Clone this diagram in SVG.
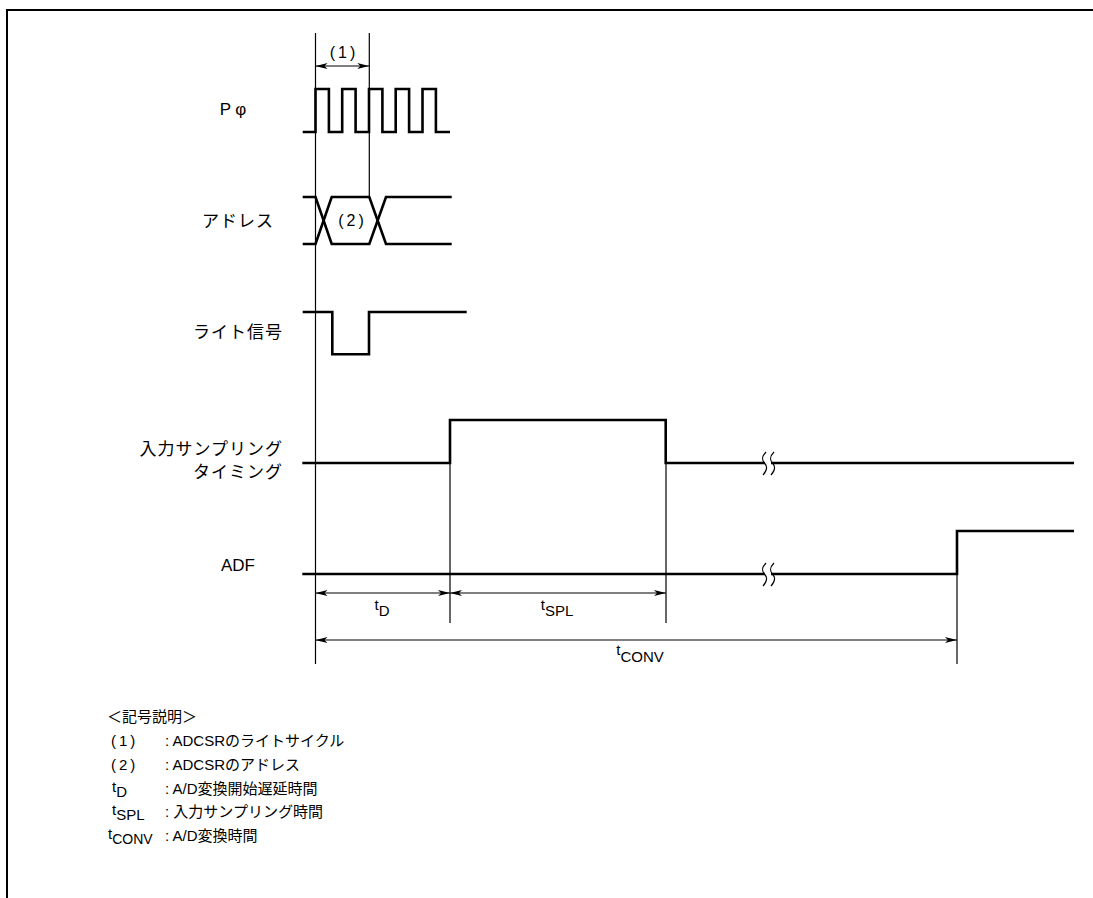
<svg xmlns="http://www.w3.org/2000/svg" width="1093" height="898" viewBox="0 0 1093 898">
<style>
.sig{fill:none;stroke:#000;stroke-width:2.6;stroke-linejoin:miter;stroke-linecap:butt}
.thin{fill:none;stroke:#000;stroke-width:1.2}
.dim{fill:none;stroke:#000;stroke-width:1.2;marker-start:url(#ah);marker-end:url(#ah)}
.lbl{font-family:"Liberation Sans","Noto Sans CJK JP",sans-serif;font-size:17px;fill:#000}
.jp{font-family:"Noto Sans CJK JP",sans-serif;font-size:17px;letter-spacing:1px;fill:#000}
.par{font-family:"Liberation Sans",sans-serif;font-size:16px;letter-spacing:3px;fill:#000}
.sm{font-family:"Liberation Sans","Noto Sans CJK JP",sans-serif;font-size:15px;fill:#000}
.leg{font-family:"Liberation Sans","Noto Sans CJK JP",sans-serif;font-size:15px;fill:#000}
</style>
<defs>
<marker id="ah" viewBox="0 0 12 6" refX="12" refY="3" markerWidth="12" markerHeight="6" markerUnits="userSpaceOnUse" orient="auto-start-reverse">
<path d="M0,0 L12,3 L0,6 L3,3 Z" fill="#000"/>
</marker>
</defs>
<rect width="1093" height="898" fill="#fff"/>
<g id="frame">
<path d="M7,898 V10 H1093" fill="none" stroke="#000" stroke-width="2"/>
</g>
<g id="connectors">
<line class="thin" x1="315.5" y1="33" x2="315.5" y2="664"/>
<line class="thin" x1="369.3" y1="33" x2="369.3" y2="197"/>
<line class="thin" x1="450" y1="463" x2="450" y2="623"/>
<line class="thin" x1="666" y1="463" x2="666" y2="623"/>
<line class="thin" x1="957" y1="574" x2="957" y2="664"/>
<line class="dim" x1="315.5" y1="66" x2="369.3" y2="66"/>
<line class="dim" x1="315.5" y1="593" x2="450" y2="593"/>
<line class="dim" x1="450" y1="593" x2="666" y2="593"/>
<line class="dim" x1="315.5" y1="640" x2="957" y2="640"/>
<text class="par" x="344" y="58" text-anchor="middle">(1)</text>
<text class="sm" x="382" y="610" text-anchor="middle">t<tspan dy="6">D</tspan></text>
<text class="sm" x="557" y="610" text-anchor="middle">t<tspan dy="6">SPL</tspan></text>
<text class="sm" x="640" y="655" text-anchor="middle">t<tspan dy="7">CONV</tspan></text>
</g>
<g id="clock">
<text class="lbl" x="233" y="115" text-anchor="middle">P<tspan dx="4">φ</tspan></text>
<path class="sig" d="M302.7,132 H315.5 V89 H328.9 V132 H342.2 V89 H355.6 V132 H369 V89 H382.4 V132 H395.7 V89 H409.1 V132 H422.5 V89 H435.9 V132 H450"/>
</g>
<g id="address">
<text class="jp" x="238" y="227" text-anchor="middle">アドレス</text>
<path class="sig" d="M302.7,197 H315.5 L331.7,244 H369.3 L386,197 H451.7"/>
<path class="sig" d="M302.7,244 H315.5 L331.7,197 H369.3 L386,244 H451.7"/>
<text class="par" x="352.5" y="226" text-anchor="middle">(2)</text>
</g>
<g id="write">
<text class="jp" x="238" y="338" text-anchor="middle">ライト信号</text>
<path class="sig" d="M302.7,312 H332.3 V354.3 H369 V312 H466.7"/>
</g>
<g id="sampling">
<text class="jp" x="283" y="455" text-anchor="end">入力サンプリング</text>
<text class="jp" x="283" y="478" text-anchor="end">タイミング</text>
<path class="sig" d="M302.3,463 H450 V420 H665.7 V463 H1074"/>
<rect x="765" y="459" width="6" height="8" fill="#fff"/>
<path class="thin" d="M766,452 C761,457 762,460 764.5,463 C767,466 768,469 763,475 M774,452 C769,457 770,460 772.5,463 C775,466 776,469 771,475"/>
</g>
<g id="adf">
<text class="lbl" x="238" y="571" text-anchor="middle">ADF</text>
<path class="sig" d="M302.3,574 H957 V531 H1074"/>
<rect x="765" y="570" width="6" height="8" fill="#fff"/>
<path class="thin" d="M766,563 C761,568 762,571 764.5,574 C767,577 768,580 763,586 M774,563 C769,568 770,571 772.5,574 C775,577 776,580 771,586"/>
</g>
<g id="legend" class="leg">
<text x="107" y="722">＜記号説明＞</text>
<text x="111" y="746" style="letter-spacing:3px">(1)</text>
<text x="165" y="746">: ADCSRのライトサイクル</text>
<text x="111" y="770" style="letter-spacing:3px">(2)</text>
<text x="165" y="770">: ADCSRのアドレス</text>
<text x="112" y="792">t<tspan dy="5">D</tspan></text>
<text x="165" y="794">: A/D変換開始遅延時間</text>
<text x="112" y="815">t<tspan dy="5">SPL</tspan></text>
<text x="165" y="817">: 入力サンプリング時間</text>
<text x="108" y="839">t<tspan dy="5" style="font-size:14px">CONV</tspan></text>
<text x="165" y="841">: A/D変換時間</text>
</g>
</svg>
